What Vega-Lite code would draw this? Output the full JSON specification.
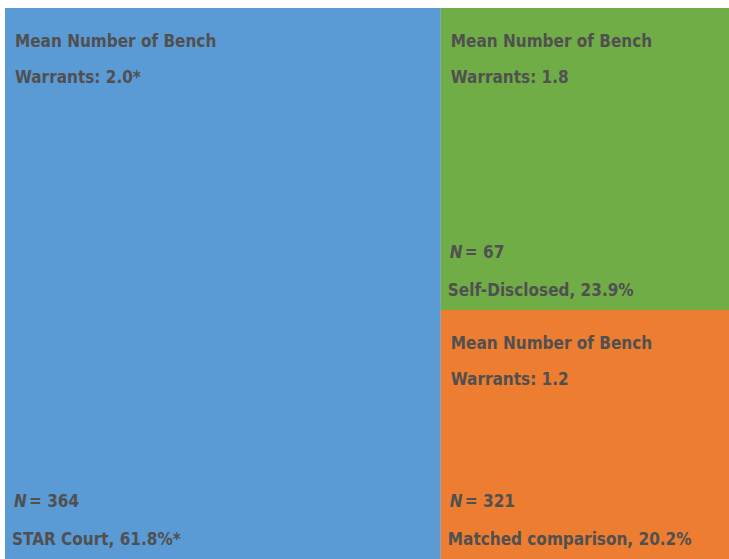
{
  "$schema": "https://vega.github.io/schema/vega-lite/v6.json",
  "width": 724,
  "height": 551,
  "autosize": "none",
  "padding": {"left": 5, "top": 8, "right": 0, "bottom": 0},
  "background": "white",
  "config": {"view": {"stroke": null}},
  "data": {
    "values": [
      {"group": "STAR Court", "x0": 0, "x1": 60.2, "y0": 0, "y1": 100, "top": ["Mean Number of Bench", "Warrants: 2.0*"], "n": "= 364", "label": "STAR Court, 61.8%*"},
      {"group": "Self-Disclosed", "x0": 60.2, "x1": 100, "y0": 0, "y1": 54.8, "top": ["Mean Number of Bench", "Warrants: 1.8"], "n": "= 67", "label": "Self-Disclosed, 23.9%"},
      {"group": "Matched comparison", "x0": 60.2, "x1": 100, "y0": 54.8, "y1": 100, "top": ["Mean Number of Bench", "Warrants: 1.2"], "n": "= 321", "label": "Matched comparison, 20.2%"}
    ]
  },
  "encoding": {
    "x": {"field": "x0", "type": "quantitative", "scale": {"domain": [0, 100], "nice": false, "zero": false}, "axis": null},
    "y": {"field": "y0", "type": "quantitative", "scale": {"domain": [0, 100], "reverse": true, "nice": false, "zero": false}, "axis": null}
  },
  "layer": [
    {
      "mark": {"type": "rect"},
      "encoding": {
        "x2": {"field": "x1"},
        "y2": {"field": "y1"},
        "color": {"field": "group", "type": "nominal", "legend": null,
          "scale": {"domain": ["STAR Court", "Self-Disclosed", "Matched comparison"], "range": ["#5B9BD5", "#70AD47", "#ED7D31"]}}
      }
    },
    {
      "mark": {"type": "text", "align": "left", "baseline": "middle", "dx": 10, "dy": 34, "lineHeight": 36, "font": "DejaVu Sans Condensed, Liberation Sans, sans-serif", "fontWeight": "bold", "fontSize": 17, "color": "#505050"},
      "encoding": {"text": {"field": "top"}}
    },
    {
      "mark": {"type": "text", "align": "left", "baseline": "middle", "dx": 9, "dy": -57, "font": "DejaVu Sans Condensed, Liberation Sans, sans-serif", "fontWeight": "bold", "fontStyle": "italic", "fontSize": 17, "color": "#505050"},
      "encoding": {"y": {"field": "y1", "type": "quantitative"}, "text": {"value": "N"}}
    },
    {
      "mark": {"type": "text", "align": "left", "baseline": "middle", "dx": 24, "dy": -57, "font": "DejaVu Sans Condensed, Liberation Sans, sans-serif", "fontWeight": "bold", "fontSize": 17, "color": "#505050"},
      "encoding": {"y": {"field": "y1", "type": "quantitative"}, "text": {"field": "n"}}
    },
    {
      "mark": {"type": "text", "align": "left", "baseline": "middle", "dx": 7, "dy": -19, "font": "DejaVu Sans Condensed, Liberation Sans, sans-serif", "fontWeight": "bold", "fontSize": 17, "color": "#505050"},
      "encoding": {"y": {"field": "y1", "type": "quantitative"}, "text": {"field": "label"}}
    }
  ]
}
